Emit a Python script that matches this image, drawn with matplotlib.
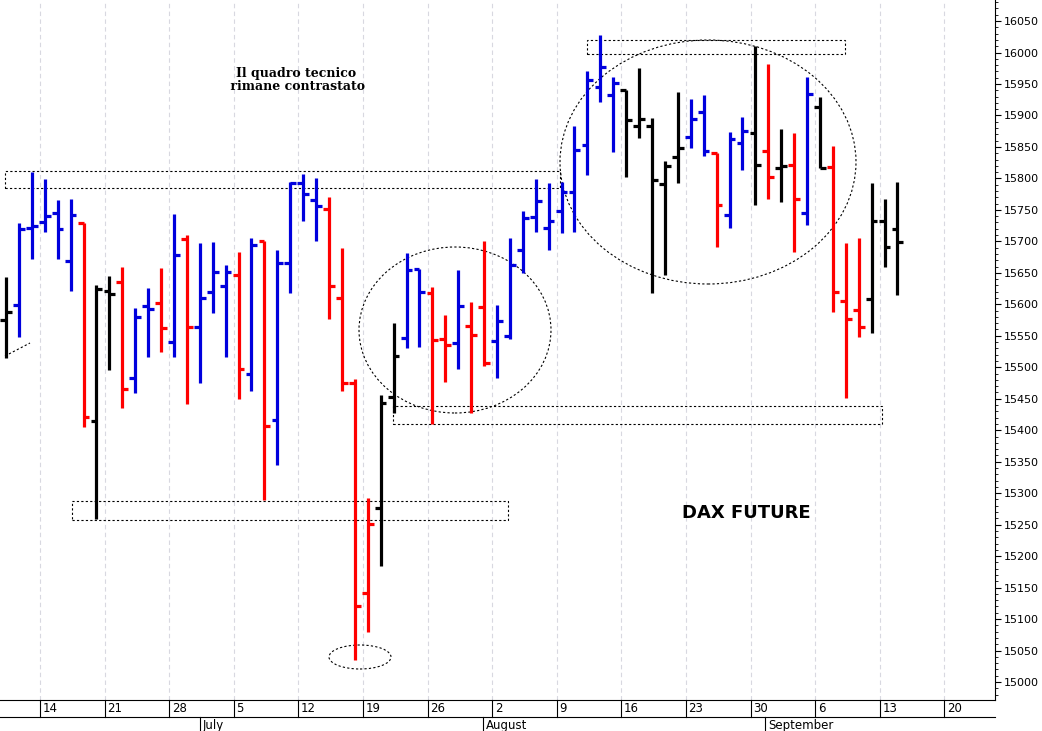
import matplotlib.pyplot as plt
from matplotlib.patches import Rectangle, Ellipse
from matplotlib.ticker import MultipleLocator
import numpy as np

# DAX future daily bars (open, high, low, close)
highs = [15643, 15729, 15810, 15799, 15766, 15767, 15729, 15631, 15645, 15659,
         15594, 15626, 15657, 15743, 15710, 15697, 15699, 15662, 15683, 15705,
         15700, 15687, 15794, 15807, 15800, 15770, 15689, 15481, 15292, 15456,
         15570, 15681, 15656, 15627, 15583, 15654, 15603, 15700, 15599, 15705,
         15749, 15799, 15792, 15794, 15883, 15970, 16028, 15961, 15940, 15975,
         15896, 15827, 15938, 15926, 15932, 15840, 15873, 15897, 16011, 15981,
         15878, 15872, 15961, 15930, 15851, 15697, 15705, 15792, 15767, 15794]
lows = [15515, 15548, 15672, 15715, 15672, 15621, 15405, 15259, 15496, 15435,
        15459, 15516, 15524, 15516, 15441, 15475, 15586, 15516, 15449, 15463,
        15289, 15344, 15618, 15733, 15700, 15576, 15463, 15035, 15079, 15184,
        15427, 15530, 15532, 15410, 15476, 15498, 15427, 15502, 15483, 15545,
        15649, 15715, 15687, 15713, 15715, 15805, 15921, 15842, 15802, 15864,
        15618, 15646, 15792, 15848, 15835, 15691, 15722, 15813, 15757, 15768,
        15762, 15683, 15726, 15816, 15587, 15451, 15548, 15554, 15660, 15614]
opens = [15575, 15599, 15721, 15731, 15745, 15669, 15729, 15415, 15621, 15635,
         15483, 15597, 15602, 15540, 15703, 15564, 15619, 15629, 15646, 15489,
         15700, 15417, 15665, 15792, 15765, 15751, 15610, 15475, 15141, 15276,
         15452, 15546, 15656, 15618, 15545, 15538, 15565, 15595, 15541, 15549,
         15686, 15738, 15721, 15748, 15778, 15853, 15945, 15932, 15940, 15884,
         15883, 15791, 15834, 15865, 15905, 15840, 15742, 15857, 15872, 15843,
         15816, 15822, 15745, 15913, 15818, 15606, 15591, 15608, 15732, 15720]
closes = [15588, 15720, 15724, 15740, 15720, 15742, 15421, 15624, 15616, 15465,
          15580, 15592, 15562, 15678, 15564, 15610, 15652, 15652, 15498, 15695,
          15406, 15665, 15792, 15776, 15756, 15629, 15475, 15120, 15251, 15443,
          15518, 15654, 15619, 15543, 15535, 15597, 15551, 15506, 15573, 15662,
          15737, 15764, 15733, 15778, 15845, 15956, 15977, 15951, 15892, 15894,
          15797, 15819, 15848, 15894, 15843, 15757, 15862, 15876, 15822, 15803,
          15819, 15768, 15934, 15816, 15619, 15576, 15564, 15732, 15691, 15699]
bar_colors = list("kbbbbbrkkrbbrbrbbbrbrbbbbrrrrkkbbrrbrrbbbbbbbbbbkkkkkbbrbbkrkrbkrrrkkk")

week_labels = ["14", "21", "28", "5", "12", "19", "26", "2", "9", "16", "23", "30", "6", "13", "20"]
months = ["July", "August", "September"]
yticks = np.arange(15000, 16051, 50)

cmap = {'k': '#000000', 'b': '#0000dd', 'r': '#ff0000'}

# pixel -> data helpers (for annotation shapes only)
def px_x(px):
    return (px - 6) / 12.92

def px_y(py):
    return 16083.4 - 1.5885 * py

fig = plt.figure(figsize=(10.42, 7.31), dpi=100)
ax = fig.add_axes([0.0, 31 / 731, 995 / 1042, 700 / 731])

x = np.arange(len(highs))
for i in x:
    c = cmap[bar_colors[i]]
    ax.plot([i, i], [lows[i], highs[i]], color=c, lw=2.3, solid_capstyle='butt')
    ax.plot([i - 0.45, i], [opens[i], opens[i]], color=c, lw=2.3, solid_capstyle='butt')
    ax.plot([i, i + 0.45], [closes[i], closes[i]], color=c, lw=2.3, solid_capstyle='butt')

week_pos = 2.63 + 5 * np.arange(len(week_labels))
for p in week_pos:
    ax.axvline(p, color='#d8d8e0', lw=0.8, ls=(0, (4, 3)), zorder=0)

ax.set_xlim(px_x(0), px_x(995))
ax.set_ylim(px_y(700), px_y(0))
ax.set_xticks([])
ax.yaxis.tick_right()
ax.set_yticks(yticks)
ax.set_yticklabels([str(v) for v in yticks], fontsize=8)
ax.yaxis.set_minor_locator(MultipleLocator(10))
ax.tick_params(axis='y', which='major', length=4, pad=2)
ax.tick_params(axis='y', which='minor', length=2)
for s in ['top', 'left']:
    ax.spines[s].set_visible(False)

# annotations: dotted boxes and ellipses
def box(x0, y0, x1, y1):
    ax.add_patch(Rectangle((px_x(x0), px_y(y1)), px_x(x1) - px_x(x0), px_y(y0) - px_y(y1),
                           fill=False, ls=(0, (2, 2)), lw=0.8, ec='black'))

def ell(cx, cy, w, h):
    ax.add_patch(Ellipse((px_x(cx), px_y(cy)), w / 12.92, h * 1.5885,
                         fill=False, ls=(0, (2, 2)), lw=0.8, ec='black'))

box(5, 171, 560, 188)
box(72, 501, 508, 520)
box(393, 406, 882, 424)
box(587, 40, 845, 54)
ell(455, 330, 192, 166)
ell(708, 162, 296, 244)
ell(360, 657, 62, 24)
ax.plot([px_x(5), px_x(30)], [px_y(356), px_y(343)], color='black', lw=0.8, ls=(0, (2, 2)))

ax.text(px_x(296), px_y(80), "Il quadro tecnico\n rimane contrastato", ha='center', va='center',
        fontsize=9, family='DejaVu Serif', fontweight='bold', linespacing=1.05)
ax.text(px_x(746), px_y(513), "DAX FUTURE", ha='center', va='center', fontsize=13, fontweight='bold')

# date strip
for p, lab in zip(week_pos, week_labels):
    ax.plot([p, p], [px_y(700), px_y(717)], color='black', lw=0.8, clip_on=False)
    ax.text(p + 0.2, px_y(709), lab, ha='left', va='center', fontsize=8.5, clip_on=False)
for px, lab in zip([200, 483, 765], months):
    ax.plot([px_x(px), px_x(px)], [px_y(717), px_y(731)], color='black', lw=0.8, clip_on=False)
    ax.text(px_x(px + 3), px_y(725), lab, ha='left', va='center', fontsize=8.5, clip_on=False)

ax.plot([px_x(0), px_x(995)], [px_y(717), px_y(717)], color='black', lw=0.8, clip_on=False)

fig.savefig('out.png', dpi=100)
